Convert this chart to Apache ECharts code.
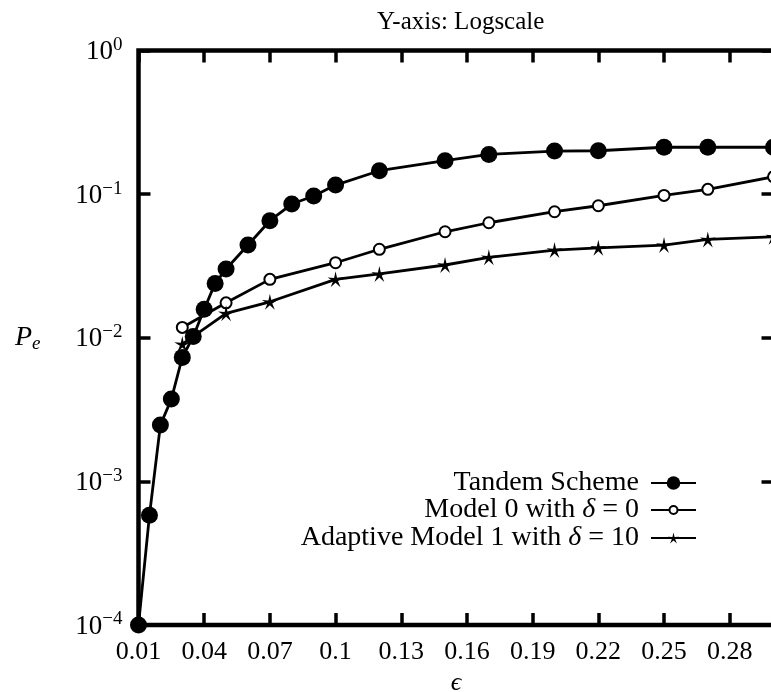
<!DOCTYPE html>
<html>
<head>
<meta charset="utf-8">
<script src="https://cdn.jsdelivr.net/npm/echarts@6/dist/echarts.min.js"></script>
<style>
html,body{margin:0;padding:0;background:#fff;}
#chart{width:771px;height:692px;}
</style>
</head>
<body>
<div id="chart"></div>
<script>
// ---- data ----
const xTandem = [0.01,0.015,0.02,0.025,0.03,0.035,0.04,0.045,0.05,0.06,0.07,0.08,0.09,0.1,0.12,0.15,0.17,0.2,0.22,0.25,0.27,0.3];
const yTandem = [0.0001,0.00058,0.00247,0.00374,0.0073,0.0102,0.0158,0.0239,0.0301,0.0442,0.0653,0.0853,0.097,0.1156,0.1455,0.171,0.189,0.1995,0.2005,0.212,0.212,0.212];
const xModels = [0.03,0.05,0.07,0.1,0.12,0.15,0.17,0.2,0.22,0.25,0.27,0.3];
const yModel0 = [0.0118,0.0175,0.0255,0.0333,0.0413,0.0547,0.0632,0.0754,0.083,0.098,0.108,0.132];
const yAdaptive = [0.00904,0.0148,0.0178,0.0255,0.0278,0.0321,0.0363,0.0408,0.0423,0.0442,0.0484,0.0505];
const seriesNames = ['Tandem Scheme','Model 0 with δ = 0','Adaptive Model 1 with δ = 10'];
const titleText = 'Y-axis: Logscale';
const xTickLabels = ['0.01','0.04','0.07','0.1','0.13','0.16','0.19','0.22','0.25','0.28'];

const FONT = 'Liberation Serif';
const pair = (xs, ys) => xs.map((x, i) => [x, ys[i]]);
const starPath = 'path://M10 0 L11.763 7.573 L19.511 6.910 L12.853 10.927 L15.878 18.090 L10 13 L4.122 18.090 L7.147 10.927 L0.489 6.910 L8.237 7.573 Z';

const legendRich = {
  n: {fontFamily: FONT, fontSize: 28, color: '#000'},
  i: {fontFamily: FONT, fontSize: 28, fontStyle: 'italic', color: '#000'}
};
function legendFmt(name) {
  const parts = name.split('δ');
  if (parts.length === 1) return '{n|' + name + '}';
  return '{n|' + parts[0] + '}{i|δ}{n|' + parts[1] + '}';
}
function makeLegend(name, top, h) {
  return {
    data: [name], top: top, right: 74, orient: 'horizontal', align: 'right',
    itemWidth: 45, itemHeight: h, padding: 0, selectedMode: false,
    formatter: legendFmt,
    textStyle: {fontFamily: FONT, fontSize: 28, color: '#000', lineHeight: 28, padding: [0, 7, 0, 0], rich: legendRich}
  };
}

const chart = echarts.init(document.getElementById('chart'), null, {renderer: 'canvas'});
const xLabelFmt = v => {
  const s = String(+v.toFixed(2));
  return xTickLabels.indexOf(s) >= 0 ? s : '';
};
chart.setOption({
  backgroundColor: '#fff',
  animation: false,
  title: {
    text: titleText, left: 455.7, top: 5, textAlign: 'center',
    textStyle: {fontFamily: FONT, fontSize: 25, fontWeight: 'normal', color: '#000'}
  },
  grid: {
    left: 138.5, top: 50.5, width: 635, height: 574.5,
    show: true, borderColor: '#000', borderWidth: 4.5, backgroundColor: 'transparent',
    containLabel: false, outerBoundsMode: 'none'
  },
  legend: [
    makeLegend(seriesNames[0], 469, 17),
    makeLegend(seriesNames[1], 496, 10),
    makeLegend(seriesNames[2], 524, 14)
  ],
  xAxis: [{
    type: 'value', min: 0.01, max: 0.30, interval: 0.03, position: 'bottom',
    name: 'ϵ', nameLocation: 'middle', nameGap: 42,
    nameTextStyle: {fontFamily: FONT, fontSize: 26, color: '#000', fontStyle: 'italic'},
    axisLine: {show: false},
    axisTick: {show: true, inside: true, length: 12, lineStyle: {color: '#000', width: 3.5}},
    axisLabel: {formatter: xLabelFmt, margin: 14, fontFamily: FONT, fontSize: 26, color: '#000', showMinLabel: true, showMaxLabel: true, hideOverlap: false},
    splitLine: {show: false}
  }, {
    type: 'value', min: 0.01, max: 0.30, interval: 0.03, position: 'top',
    axisLine: {show: false},
    axisTick: {show: true, inside: true, length: 12, lineStyle: {color: '#000', width: 3.5}},
    axisLabel: {show: false}, splitLine: {show: false}
  }],
  yAxis: [{
    type: 'log', logBase: 10, min: 0.0001, max: 1, position: 'left',
    name: '{p|P}{s|e}', nameLocation: 'middle', nameGap: 98, nameRotate: 0,
    nameTextStyle: {rich: {
      p: {fontFamily: FONT, fontSize: 28, fontStyle: 'italic', color: '#000'},
      s: {fontFamily: FONT, fontSize: 19, fontStyle: 'italic', color: '#000', padding: [12, 0, 0, 0]}
    }},
    axisLine: {show: false},
    axisTick: {show: true, inside: true, length: 12, lineStyle: {color: '#000', width: 3.5}},
    minorTick: {show: false},
    axisLabel: {
      margin: 16,
      formatter: v => {
        const e = Math.round(Math.log10(v));
        return '{b|10}{s|' + (e < 0 ? '\u2212' + (-e) : e) + '}';
      },
      rich: {
        b: {fontFamily: FONT, fontSize: 27, color: '#000', verticalAlign: 'bottom', lineHeight: 30},
        s: {fontFamily: FONT, fontSize: 19, color: '#000', verticalAlign: 'top', lineHeight: 17}
      }
    },
    splitLine: {show: false}
  }, {
    type: 'log', logBase: 10, min: 0.0001, max: 1, position: 'right',
    axisLine: {show: false},
    axisTick: {show: true, inside: true, length: 12, lineStyle: {color: '#000', width: 3.5}},
    axisLabel: {show: false}, splitLine: {show: false}
  }],
  series: [{
    name: seriesNames[0], type: 'line', xAxisIndex: 0, yAxisIndex: 0,
    data: pair(xTandem, yTandem),
    symbol: 'circle', symbolSize: 17, showAllSymbol: true, clip: false,
    lineStyle: {color: '#000', width: 2.8}, itemStyle: {color: '#000'}
  }, {
    name: seriesNames[1], type: 'line', xAxisIndex: 0, yAxisIndex: 0,
    data: pair(xModels, yModel0),
    symbol: 'emptyCircle', symbolSize: 11, showAllSymbol: true, clip: false,
    lineStyle: {color: '#000', width: 2.8}, itemStyle: {color: '#000', borderColor: '#000', borderWidth: 1.4}
  }, {
    name: seriesNames[2], type: 'line', xAxisIndex: 0, yAxisIndex: 0,
    data: pair(xModels, yAdaptive),
    symbol: starPath, symbolSize: 16, showAllSymbol: true, clip: false,
    lineStyle: {color: '#000', width: 2.8}, itemStyle: {color: '#000'}
  }]
});
</script>
</body>
</html>
